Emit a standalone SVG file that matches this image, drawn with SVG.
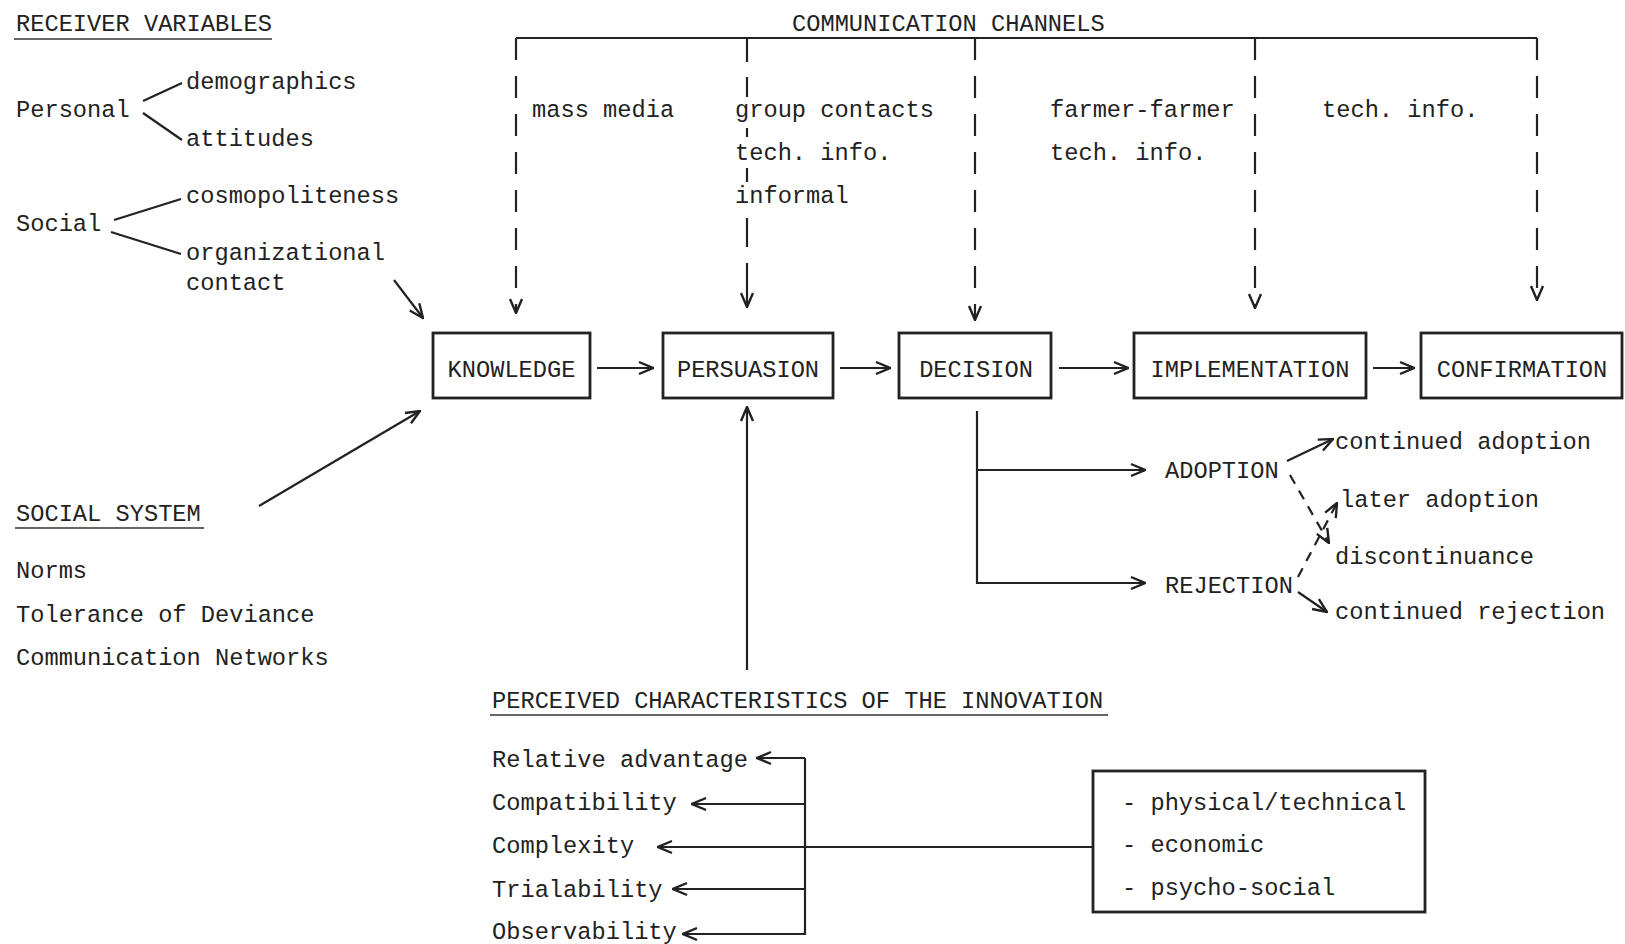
<svg xmlns="http://www.w3.org/2000/svg" width="1625" height="944" viewBox="0 0 1625 944">
<defs>
<marker id="ah" viewBox="0 0 16 16" refX="15" refY="8" markerWidth="16" markerHeight="16" markerUnits="userSpaceOnUse" orient="auto">
<path d="M1,2 L15,8 L1,14" fill="none" stroke="#222" stroke-width="2.4" stroke-dasharray="none"/>
</marker>
</defs>
<style>
text { font-family: "Liberation Mono", "Courier New", monospace; font-size: 23.7px; fill: #222; }
.box { fill: none; stroke: #222; stroke-width: 2.8; }
.ln { fill: none; stroke: #222; stroke-width: 2.2; }
.dash { stroke-dasharray: 22 16; }
.sdash { stroke-dasharray: 10 8; }
.arr { marker-end: url(#ah); }
.ul { stroke: #333; stroke-width: 1.6; }
.c { text-anchor: middle; }
</style>
<rect width="1625" height="944" fill="#fff"/>

<g id="receiver-variables">
<text x="16" y="31">RECEIVER VARIABLES</text>
<line class="ul" x1="14" y1="39" x2="272" y2="39"/>
<text x="16" y="117">Personal</text>
<text x="186" y="89">demographics</text>
<text x="186" y="146">attitudes</text>
<text x="16" y="231">Social</text>
<text x="186" y="203">cosmopoliteness</text>
<text x="186" y="260">organizational</text>
<text x="186" y="290">contact</text>
</g>

<g id="communication-channels">
<text x="792" y="31">COMMUNICATION CHANNELS</text>
<text x="532" y="117">mass media</text>
<text x="735" y="117">group contacts</text>
<text x="735" y="160">tech. info.</text>
<text x="735" y="203">informal</text>
<text x="1050" y="117">farmer-farmer</text>
<text x="1050" y="160">tech. info.</text>
<text x="1322" y="117">tech. info.</text>
</g>

<g id="knowledge">
<rect class="box" x="433" y="333" width="157" height="65"/>
<text class="c" x="511.5" y="377">KNOWLEDGE</text>
</g>
<g id="persuasion">
<rect class="box" x="663" y="333" width="170" height="65"/>
<text class="c" x="748" y="377">PERSUASION</text>
</g>
<g id="decision">
<rect class="box" x="899" y="333" width="152" height="65"/>
<text class="c" x="976" y="377">DECISION</text>
</g>
<g id="implementation">
<rect class="box" x="1134" y="333" width="232" height="65"/>
<text class="c" x="1250" y="377">IMPLEMENTATION</text>
</g>
<g id="confirmation">
<rect class="box" x="1421" y="333" width="201" height="65"/>
<text class="c" x="1522" y="377">CONFIRMATION</text>
</g>

<g id="adoption">
<text x="1165" y="478">ADOPTION</text>
</g>
<g id="rejection">
<text x="1165" y="593">REJECTION</text>
</g>
<g id="outcomes">
<text x="1335" y="449">continued adoption</text>
<text x="1340" y="507">later adoption</text>
<text x="1335" y="564">discontinuance</text>
<text x="1335" y="619">continued rejection</text>
</g>

<g id="social-system">
<text x="16" y="521">SOCIAL SYSTEM</text>
<line class="ul" x1="15" y1="528" x2="204" y2="528"/>
<text x="16" y="578">Norms</text>
<text x="16" y="622">Tolerance of Deviance</text>
<text x="16" y="665">Communication Networks</text>
</g>

<g id="perceived-characteristics">
<text x="492" y="708">PERCEIVED CHARACTERISTICS OF THE INNOVATION</text>
<line class="ul" x1="490" y1="715" x2="1108" y2="715"/>
<text x="492" y="767">Relative advantage</text>
<text x="492" y="810">Compatibility</text>
<text x="492" y="853">Complexity</text>
<text x="492" y="897">Trialability</text>
<text x="492" y="939">Observability</text>
</g>

<g id="dimensions">
<rect class="box" x="1093" y="771" width="332" height="141"/>
<text x="1122" y="810">- physical/technical</text>
<text x="1122" y="852">- economic</text>
<text x="1122" y="895">- psycho-social</text>
</g>

<g id="connectors">
<path class="ln" d="M143,101 L182,83"/>
<path class="ln" d="M143,113 L182,140"/>
<path class="ln" d="M114,220 L181,199"/>
<path class="ln" d="M111,232 L181,254"/>
<path class="ln arr" d="M394,280 L423,318"/>
<path class="ln" d="M516,38 H1537"/>
<path class="ln dash arr" d="M516,38 V313"/>
<path class="ln arr" d="M747,38 V62 M747,77 V97 M747,128 V137 M747,168 V182 M747,218 V247 M747,263 V307"/>
<path class="ln dash arr" d="M975,38 V320"/>
<path class="ln dash arr" d="M1255,38 V308"/>
<path class="ln dash arr" d="M1537,38 V300"/>
<path class="ln arr" d="M597,368 H653"/>
<path class="ln arr" d="M840,368 H890"/>
<path class="ln arr" d="M1059,368 H1128"/>
<path class="ln arr" d="M1373,368 H1414"/>
<path class="ln arr" d="M977,411 V583 H1145"/>
<path class="ln arr" d="M977,470 H1145"/>
<path class="ln arr" d="M1287,461 L1333,439"/>
<path class="ln sdash arr" d="M1290,475 L1329,543"/>
<path class="ln sdash arr" d="M1298,577 L1337,503"/>
<path class="ln arr" d="M1298,592 L1327,612"/>
<path class="ln arr" d="M259,506 L420,411"/>
<path class="ln arr" d="M747,670 V407"/>
<path class="ln" d="M805,758 V935"/>
<path class="ln arr" d="M805,758 H757"/>
<path class="ln arr" d="M805,804 H692"/>
<path class="ln arr" d="M805,847 H658"/>
<path class="ln arr" d="M805,889 H673"/>
<path class="ln arr" d="M805,934 H683"/>
<path class="ln" d="M805,847 H1093"/>
</g>
</svg>
